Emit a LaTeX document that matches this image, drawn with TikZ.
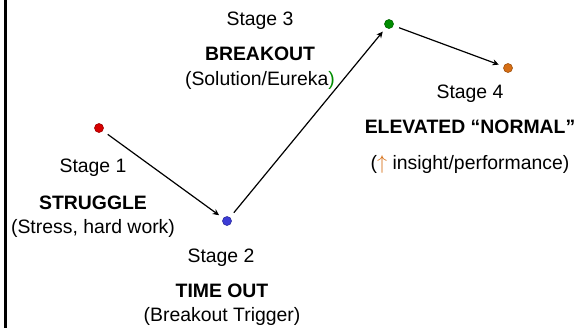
\documentclass[tikz,border=0pt]{standalone}
\usepackage{fontspec}
\setmainfont{Liberation Sans}
\usetikzlibrary{arrows.meta, positioning}
\definecolor{dotred}{RGB}{214,0,0}
\definecolor{dotblue}{RGB}{60,60,214}
\definecolor{dotgreen}{RGB}{0,140,0}
\definecolor{dotorange}{RGB}{214,110,20}
\newcommand{\Lbl}{\fontsize{9.7}{11}\selectfont}
\tikzset{
    stage/.style={circle, inner sep=0pt, minimum size=4.5pt, fill=#1, draw=#1!75!black, line width=0.3pt},
    lbl/.style={inner sep=0pt, font=\Lbl},
    ttl/.style={inner sep=0pt, font=\Lbl\bfseries},
    jump/.style={-{Stealth[length=3.2pt, width=3pt]}, line width=0.6pt, shorten <=3pt, shorten >=2.5pt},
}

\begin{document}
\begin{tikzpicture}[x=0.5pt, y=-0.5pt]
    \useasboundingbox (0,0) rectangle (581,328);
    \draw[line width=1.4pt] (5.5,0) -- (5.5,328);

    % the four points
    \node[stage=dotred] (s1) at (99,128) {};
    \node[stage=dotblue] (s2) at (227,221) {};
    \node[stage=dotgreen] (s3) at (389,24) {};
    \node[stage=dotorange] (s4) at (508,68) {};

    \draw[jump] (s1) -- (s2);
    \draw[jump] (s2) -- (s3);
    \draw[jump] (s3) -- (s4);

    % stage 1
    \node[lbl] (n1) at (93,168) {Stage 1};
    \node[ttl] (t1) at (93,203) {STRUGGLE};
    \node[lbl] (d1) at (93,228) {(Stress, hard work)};

    % stage 2
    \node[lbl] (n2) at (221,258) {Stage 2};
    \node[ttl] (t2) at (222,291) {TIME OUT};
    \node[lbl] (d2) at (222,316) {(Breakout Trigger)};

    % stage 3
    \node[lbl] (n3) at (260,21) {Stage 3};
    \node[ttl] (t3) at (260,54) {BREAKOUT};
    \node[lbl] (d3) at (260,80) {(Solution/Eureka\textcolor{dotgreen}{)}};

    % stage 4
    \node[lbl] (n4) at (470,94) {Stage 4};
    \node[ttl] (t4) at (470,127) {ELEVATED “NORMAL”};
    \node[lbl] (d4) at (470,164) {(\textcolor{dotorange}{$\uparrow$} insight/performance)};
\end{tikzpicture}
\end{document}
